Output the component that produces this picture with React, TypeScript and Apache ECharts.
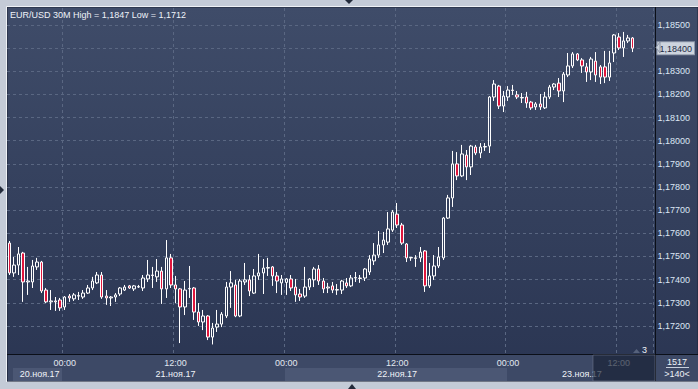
import React, { useEffect, useRef } from "react";
import * as echarts from "echarts";

const TITLE = "EUR/USD 30M High = 1,1847 Low = 1,1712";
const FONT = "Liberation Sans, Arial, sans-serif";

// first bar: 20 Nov 2017 18:00, 30-minute bars; 140 slots on the axis
const FIRST_BAR_UTC = Date.UTC(2017, 10, 20, 18, 0);
const SLOT_COUNT = 140;

// [open, high, low, close]
const ohlc: number[][] = [
  [1.17558, 1.17567, 1.1742, 1.17429],
  [1.17429, 1.17498, 1.17412, 1.17463],
  [1.17463, 1.17541, 1.1742, 1.17511],
  [1.17515, 1.1752, 1.17304, 1.1739],
  [1.1739, 1.17455, 1.17334, 1.17394],
  [1.1739, 1.17485, 1.17364, 1.17459],
  [1.17455, 1.17494, 1.17442, 1.17476],
  [1.17476, 1.17481, 1.17342, 1.17351],
  [1.17355, 1.17364, 1.17299, 1.17304],
  [1.17304, 1.17355, 1.17269, 1.17308],
  [1.17308, 1.17325, 1.17265, 1.17304],
  [1.17312, 1.17321, 1.17265, 1.17278],
  [1.17282, 1.17329, 1.17269, 1.17325],
  [1.17329, 1.17338, 1.17304, 1.17321],
  [1.17317, 1.17342, 1.17308, 1.17334],
  [1.17329, 1.17347, 1.17312, 1.17331],
  [1.17325, 1.17355, 1.17317, 1.17342],
  [1.17342, 1.17377, 1.17338, 1.17364],
  [1.17364, 1.17412, 1.17355, 1.17394],
  [1.17386, 1.17433, 1.17381, 1.1742],
  [1.1742, 1.17433, 1.17317, 1.17325],
  [1.17329, 1.17355, 1.17291, 1.17321],
  [1.17321, 1.17329, 1.17286, 1.17325],
  [1.17325, 1.17342, 1.17304, 1.17334],
  [1.17338, 1.17368, 1.17329, 1.17364],
  [1.17355, 1.17377, 1.17351, 1.17368],
  [1.17373, 1.17377, 1.1736, 1.17364],
  [1.1736, 1.17377, 1.17351, 1.17373],
  [1.17368, 1.17377, 1.17364, 1.1737],
  [1.17364, 1.1742, 1.17351, 1.17407],
  [1.17403, 1.17485, 1.1739, 1.1742],
  [1.1742, 1.17455, 1.17364, 1.17418],
  [1.17412, 1.17489, 1.1739, 1.17437],
  [1.17437, 1.17455, 1.17295, 1.1736],
  [1.1736, 1.17571, 1.17321, 1.17494],
  [1.17494, 1.17511, 1.17364, 1.17377],
  [1.17377, 1.17416, 1.17299, 1.1736],
  [1.1736, 1.17364, 1.17126, 1.17282],
  [1.17282, 1.17394, 1.17247, 1.17355],
  [1.1736, 1.17459, 1.17321, 1.17362],
  [1.17364, 1.17368, 1.17226, 1.1726],
  [1.1726, 1.17299, 1.172, 1.17217],
  [1.17217, 1.17269, 1.17182, 1.17243],
  [1.17243, 1.17247, 1.17139, 1.17152],
  [1.17152, 1.17213, 1.1712, 1.17191],
  [1.17195, 1.17269, 1.17174, 1.17208],
  [1.17208, 1.1726, 1.17195, 1.17251],
  [1.17243, 1.1739, 1.17234, 1.17368],
  [1.17368, 1.17437, 1.17278, 1.17386],
  [1.17377, 1.17399, 1.17238, 1.17243],
  [1.17243, 1.17403, 1.17238, 1.17394],
  [1.1739, 1.17472, 1.17377, 1.17399],
  [1.17399, 1.1742, 1.17329, 1.17351],
  [1.17342, 1.17446, 1.17338, 1.17416],
  [1.17416, 1.17511, 1.17399, 1.17429],
  [1.17429, 1.17489, 1.17338, 1.1745],
  [1.1745, 1.17494, 1.17416, 1.17452],
  [1.17455, 1.17459, 1.17373, 1.17416],
  [1.17416, 1.17433, 1.17342, 1.17394],
  [1.17386, 1.1742, 1.17334, 1.17403],
  [1.17388, 1.17407, 1.17334, 1.17403],
  [1.17403, 1.1742, 1.17351, 1.17364],
  [1.17368, 1.17403, 1.17304, 1.17334],
  [1.17338, 1.1736, 1.17308, 1.17325],
  [1.17329, 1.17455, 1.17321, 1.17368],
  [1.17368, 1.17407, 1.17355, 1.17403],
  [1.17399, 1.17455, 1.17368, 1.17446],
  [1.17446, 1.17463, 1.17377, 1.17394],
  [1.17394, 1.17407, 1.17342, 1.1736],
  [1.17364, 1.17386, 1.17342, 1.17368],
  [1.17373, 1.1739, 1.17342, 1.17355],
  [1.17355, 1.17381, 1.17334, 1.17357],
  [1.17355, 1.17399, 1.17338, 1.17394],
  [1.17386, 1.17407, 1.17364, 1.17373],
  [1.17373, 1.1742, 1.17368, 1.17407],
  [1.17407, 1.17433, 1.1739, 1.17409],
  [1.17407, 1.1742, 1.17386, 1.17405],
  [1.17407, 1.1745, 1.17394, 1.17446],
  [1.17433, 1.17506, 1.1742, 1.17489],
  [1.17481, 1.17558, 1.17463, 1.17506],
  [1.17506, 1.1761, 1.17494, 1.1755],
  [1.1755, 1.17606, 1.17515, 1.17571],
  [1.17562, 1.17692, 1.1755, 1.17619],
  [1.17614, 1.17701, 1.17606, 1.17692],
  [1.17683, 1.17731, 1.17623, 1.17636],
  [1.17636, 1.17645, 1.1755, 1.17558],
  [1.17554, 1.17558, 1.17476, 1.17494],
  [1.17494, 1.17498, 1.17481, 1.17496],
  [1.17494, 1.17506, 1.17455, 1.17492],
  [1.17494, 1.17541, 1.17476, 1.17519],
  [1.17524, 1.17528, 1.17347, 1.17373],
  [1.17373, 1.17472, 1.17364, 1.17416],
  [1.17416, 1.17506, 1.17399, 1.17459],
  [1.17459, 1.17541, 1.1745, 1.17498],
  [1.17494, 1.1767, 1.17485, 1.17666],
  [1.17666, 1.17766, 1.17662, 1.17753],
  [1.17753, 1.17956, 1.17714, 1.179],
  [1.179, 1.17951, 1.1783, 1.17848],
  [1.17848, 1.17982, 1.17843, 1.17943],
  [1.17938, 1.1796, 1.1783, 1.17887],
  [1.17887, 1.17982, 1.17852, 1.17977],
  [1.17973, 1.17982, 1.17938, 1.17947],
  [1.17947, 1.1799, 1.17925, 1.17973],
  [1.17973, 1.1799, 1.17956, 1.17975],
  [1.17977, 1.18193, 1.17947, 1.18189],
  [1.18189, 1.18262, 1.18172, 1.18245],
  [1.18236, 1.18241, 1.18137, 1.1815],
  [1.1815, 1.18215, 1.18124, 1.18193],
  [1.18189, 1.18236, 1.18172, 1.18219],
  [1.18219, 1.18241, 1.18198, 1.18217],
  [1.18198, 1.18215, 1.1818, 1.18189],
  [1.18185, 1.18206, 1.18163, 1.18187],
  [1.18189, 1.18211, 1.18142, 1.18163],
  [1.18167, 1.18172, 1.18133, 1.18142],
  [1.18146, 1.18167, 1.18133, 1.18159],
  [1.18159, 1.18202, 1.18133, 1.18146],
  [1.18142, 1.18211, 1.18137, 1.18189],
  [1.18189, 1.18241, 1.1818, 1.18232],
  [1.18232, 1.18249, 1.18219, 1.18245],
  [1.18249, 1.18271, 1.18189, 1.18215],
  [1.18215, 1.18297, 1.18167, 1.18288],
  [1.18284, 1.18379, 1.18275, 1.18323],
  [1.18323, 1.18383, 1.18314, 1.18375],
  [1.18375, 1.18379, 1.18344, 1.18349],
  [1.18349, 1.18357, 1.18293, 1.18323],
  [1.18319, 1.18336, 1.18254, 1.18297],
  [1.18297, 1.18362, 1.18262, 1.18353],
  [1.18344, 1.18383, 1.18254, 1.18284],
  [1.18319, 1.18327, 1.18245, 1.18275],
  [1.18319, 1.18388, 1.18249, 1.18275],
  [1.18275, 1.18388, 1.18258, 1.18336],
  [1.18379, 1.18461, 1.1834, 1.18457],
  [1.18448, 1.18465, 1.18392, 1.18401],
  [1.18401, 1.1847, 1.18362, 1.18431],
  [1.18431, 1.18457, 1.18422, 1.18444],
  [1.18444, 1.18448, 1.18383, 1.184],
];

const priceTicks = [
  1.172, 1.173, 1.174, 1.175, 1.176, 1.177, 1.178, 1.179, 1.18, 1.181, 1.182,
  1.183, 1.184, 1.185,
];
const Y_MIN = 1.170788;
const Y_MAX = 1.185734;

const dateLabels = ["20.ноя.17", "21.ноя.17", "22.ноя.17", "23.ноя.17"];
const dateLabelSlots = [7, 36, 84, 124];

const barCountText = "1517";
const visibleBarsText = ">140<";
const markerText = "3";

const pad = (n: number) => (n < 10 ? "0" + n : "" + n);
const categories: string[] = [];
for (let i = 0; i < SLOT_COUNT; i++) {
  const d = new Date(FIRST_BAR_UTC + i * 30 * 60000);
  categories.push(
    `${d.getUTCFullYear()}-${pad(d.getUTCMonth() + 1)}-${pad(d.getUTCDate())} ${pad(
      d.getUTCHours()
    )}:${pad(d.getUTCMinutes())}`
  );
}

const lastClose = ohlc[ohlc.length - 1][3];
const fmtPrice = (v: number) => v.toFixed(5).replace(".", ",");

export default function App() {
  const ref = useRef<HTMLDivElement>(null);
  useEffect(() => {
    if (!ref.current) return;
    const chart = echarts.init(ref.current, undefined, { renderer: "svg" });
    const W = 698;
    const gridLeft = 7;
    const gridRight = 43;
    const gridTop = 8;
    const gridBottom = 35;
    const axisX = W - gridRight; // 655
    const axisY = 389 - gridBottom; // 354

    chart.setOption({
      animation: false,
      backgroundColor: "#c4cbd7",
      grid: { left: gridLeft, right: gridRight, top: gridTop, bottom: gridBottom },
      xAxis: [
        {
          type: "category",
          data: categories,
          boundaryGap: true,
          axisLine: { show: false },
          axisTick: { show: false },
          splitLine: {
            show: true,
            interval: (i: number) => i % 24 === 12,
            lineStyle: { color: "#5a6782", type: [3, 3], width: 1 },
          },
          axisLabel: {
            interval: (i: number) => i % 24 === 12,
            formatter: (v: string) => v.slice(11),
            color: "#e2e8f0",
            fontSize: 9,
            fontFamily: FONT,
            margin: 4,
          },
        },
        {
          type: "category",
          data: categories,
          boundaryGap: true,
          position: "bottom",
          offset: 11,
          axisLine: { show: false },
          axisTick: { show: false },
          splitLine: { show: false },
          axisLabel: {
            interval: (i: number) => dateLabelSlots.indexOf(i) >= 0,
            formatter: (_v: string, i: number) => {
              const k = dateLabelSlots.indexOf(i);
              if (k < 0) return "";
              return k === 0 ? `{shift|${dateLabels[k]}}` : dateLabels[k];
            },
            color: "#f0f3f8",
            fontSize: 9,
            fontFamily: FONT,
            margin: 4,
            rich: {
              shift: { color: "#f0f3f8", fontSize: 9, fontFamily: FONT, padding: [0, 4, 0, 0] },
            },
          },
        },
      ],
      yAxis: {
        type: "value",
        position: "right",
        min: Y_MIN,
        max: Y_MAX,
        splitNumber: 15,
        axisLine: { show: false },
        axisTick: { show: false, customValues: priceTicks },
        splitLine: {
          show: true,
          lineStyle: { color: "#5a6782", type: [3, 3], width: 1 },
        },
        axisLabel: {
          customValues: priceTicks,
          margin: 4,
          color: "#dce6f4",
          fontSize: 9,
          fontFamily: FONT,
          formatter: (v: number) =>
            Math.abs(v - lastClose) < 1e-7 ? `{tag|${fmtPrice(v)}}` : fmtPrice(v),
          rich: {
            tag: {
              color: "#1f2b45",
              fontSize: 9,
              fontFamily: FONT,
              backgroundColor: "#cdd4de",
              borderColor: "#8e98aa",
              borderWidth: 1,
              padding: [2, 2, 1, 2],
            },
          },
        },
      },
      series: [
        {
          type: "candlestick",
          xAxisIndex: 0,
          data: ohlc.map(([o, h, l, c]) => [o, c, l, h]),
          barWidth: 3,
          itemStyle: {
            color: "rgba(0,0,0,0)",
            color0: "#e0163d",
            borderColor: "#ffffff",
            borderColor0: "#ffffff",
            borderWidth: 1,
          },
        },
      ],
      graphic: [
        {
          type: "rect",
          z: -10,
          shape: { x: 7, y: 7, width: W - 7, height: 374 },
          style: {
            fill: new echarts.graphic.LinearGradient(0, 0, 0, 1, [
              { offset: 0, color: "#3f4c69" },
              { offset: 1, color: "#2a3552" },
            ]),
            stroke: "#1e2536",
            lineWidth: 1,
          },
        },
        {
          type: "rect",
          z: -9,
          shape: { x: 8, y: axisY + 1, width: W - 8, height: 26 },
          style: { fill: "#3d4966" },
        },
        {
          type: "rect",
          z: -8,
          shape: { x: 13, y: 368, width: 49, height: 13 },
          style: { fill: "#4b5774" },
        },
        {
          type: "rect",
          z: -8,
          shape: { x: 285, y: 368, width: 222, height: 13 },
          style: { fill: "#4b5774" },
        },
        {
          type: "polyline",
          z: -7,
          shape: { points: [[6.5, 382], [6.5, 6.5], [W, 6.5]] },
          style: { stroke: "#eef1f5", lineWidth: 1, fill: "none" },
        },
        {
          type: "line",
          z: 50,
          shape: { x1: axisX + 0.5, y1: 7, x2: axisX + 0.5, y2: 381 },
          style: { stroke: "#0b0f18", lineWidth: 1 },
        },
        {
          type: "line",
          z: 50,
          shape: { x1: 7, y1: axisY + 0.5, x2: W, y2: axisY + 0.5 },
          style: { stroke: "#0b0f18", lineWidth: 1 },
        },
        {
          type: "rect",
          z: 60,
          shape: { x: 593, y: axisY + 1, width: axisX - 593, height: 26 },
          style: { fill: "rgba(24,32,52,0.68)", stroke: "rgba(120,130,150,0.5)", lineWidth: 1 },
        },
        {
          type: "polygon",
          z: 60,
          shape: { points: [[656, 47.5], [660, 42], [660, 53]] },
          style: { fill: "#cdd4de", stroke: "#8e98aa", lineWidth: 1 },
        },
        {
          type: "text",
          z: 60,
          x: 10,
          y: 15,
          style: {
            text: TITLE,
            fill: "#eef2f8",
            fontSize: 9,
            fontFamily: FONT,
            verticalAlign: "middle",
          },
        },
        {
          type: "polygon",
          z: 60,
          shape: { points: [[633, 353], [636.5, 349], [640, 353]] },
          style: { fill: "#56627c" },
        },
        {
          type: "text",
          z: 60,
          x: 642,
          y: 349.5,
          style: { text: markerText, fill: "#eef2f8", fontSize: 9, fontFamily: FONT, verticalAlign: "middle" },
        },
        {
          type: "text",
          z: 60,
          x: 677,
          y: 362,
          style: { text: barCountText, fill: "#eef2f8", fontSize: 9, fontFamily: FONT, align: "center", verticalAlign: "middle" },
        },
        {
          type: "line",
          z: 60,
          shape: { x1: 666, y1: 367.5, x2: 689, y2: 367.5 },
          style: { stroke: "#c8d0dc", lineWidth: 1 },
        },
        {
          type: "text",
          z: 60,
          x: 677,
          y: 374,
          style: { text: visibleBarsText, fill: "#eef2f8", fontSize: 9, fontFamily: FONT, align: "center", verticalAlign: "middle" },
        },
        {
          type: "polygon",
          z: 60,
          shape: { points: [[345, 0], [353, 0], [349, 4]] },
          style: { fill: "#232b3b" },
        },
        {
          type: "polygon",
          z: 60,
          shape: { points: [[348, 389], [356, 389], [352, 384]] },
          style: { fill: "#232b3b" },
        },
        {
          type: "polygon",
          z: 60,
          shape: { points: [[0, 186], [0, 194], [4, 190]] },
          style: { fill: "#232b3b" },
        },
      ],
    });
    return () => chart.dispose();
  }, []);
  return (
    <div
      ref={ref}
      style={{ position: "fixed", left: 0, top: 0, width: 698, height: 389 }}
    />
  );
}
